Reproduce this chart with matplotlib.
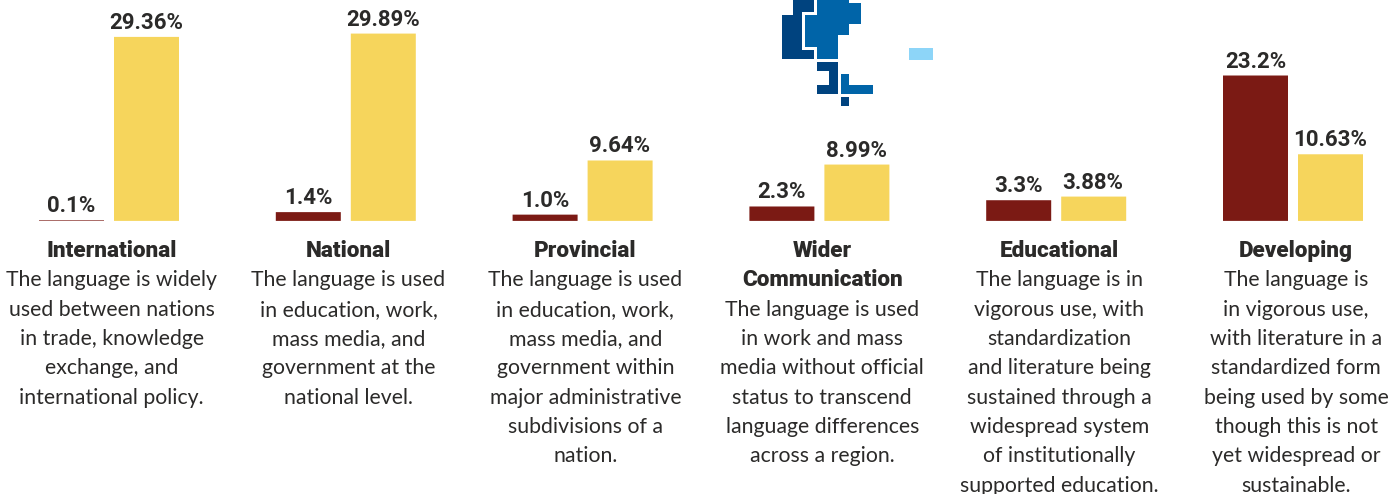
import matplotlib
matplotlib.use("Agg")
import matplotlib.pyplot as plt
from matplotlib.patches import Polygon
from matplotlib.transforms import Affine2D
import numpy as np

W, H = 1399, 494
categories = ["International", "National", "Provincial", "Wider\nCommunication", "Educational", "Developing"]
dark_values = [0.1, 1.4, 1.0, 2.3, 3.3, 23.2]
gold_values = [29.36, 29.89, 9.64, 8.99, 3.88, 10.63]
dark_labels = ["0.1%", "1.4%", "1.0%", "2.3%", "3.3%", "23.2%"]
gold_labels = ["29.36%", "29.89%", "9.64%", "8.99%", "3.88%", "10.63%"]
descriptions = [
    "The language is widely\nused between nations\nin trade, knowledge\nexchange, and\ninternational policy.",
    "The language is used\nin education, work,\nmass media, and\ngovernment at the\nnational level.",
    "The language is used\nin education, work,\nmass media, and\ngovernment within\nmajor administrative\nsubdivisions of a\nnation.",
    "The language is used\nin work and mass\nmedia without official\nstatus to transcend\nlanguage differences\nacross a region.",
    "The language is in\nvigorous use, with\nstandardization\nand literature being\nsustained through a\nwidespread system\nof institutionally\nsupported education.",
    "The language is\nin vigorous use,\nwith literature in a\nstandardized form\nbeing used by some\nthough this is not\nyet widespread or\nsustainable.",
]
# decorative map fragments, in pixels of the 3x crop at (770, 0)
map_dark = [
    [(35,45),(70,45),(70,0),(132,0),(132,35),(97,35),(97,150),(132,150),(132,177),(35,177)],
    [(141,186),(203,186),(203,283),(141,283),(141,256),(176,256),(176,212),(141,212)],
    [(212,292),(238,292),(238,318),(212,318)],
]
map_mid = [
    [(141,0),(238,0),(238,9),(273,9),(273,71),(238,71),(238,106),(203,106),(203,177),(141,177),(141,141),(106,141),(106,45),(141,45)],
    [(212,221),(238,221),(238,256),(308,256),(308,283),(212,283)],
]
map_light = [[(417,144),(489,144),(489,180),(417,180)]]

DARK, GOLD, INK = "#7b1a14", "#f6d55c", "#2b2a29"
PX_PER_PCT = 184 / 29.36
BASE = 220.9
STEP = 236.8
TEXT_STEP = 236.9
X0 = 109
TEXT_X0 = 111.6
BW = 65 / STEP
OFF = 37.5 / STEP

fig = plt.figure(figsize=(W / 100, H / 100), dpi=100, facecolor="white")
ax = fig.add_axes([0, 0, 1, 1])
ax.set_xlim(-X0 / STEP, (W - X0) / STEP)
ax.set_ylim(-(H - BASE) / PX_PER_PCT, BASE / PX_PER_PCT)
ax.axis("off")
px = Affine2D().scale(1 / W, -1 / H).translate(0, 1) + fig.transFigure

x = np.arange(len(categories))
for bars in (ax.bar(x - OFF, dark_values, BW, color=DARK),
             ax.bar(x + OFF, gold_values, BW, color=GOLD)):
    for b in bars:
        b.set_snap(False)

LABEL_FONT = dict(family="Roboto", weight="bold", fontsize=16, color=INK,
                  ha="center", va="center", textcoords="offset pixels")
for i in x:
    ax.annotate(dark_labels[i], (i - OFF, dark_values[i]), xytext=(0, 14), **LABEL_FONT)
    ax.annotate(gold_labels[i], (i + OFF, gold_values[i]), xytext=(-0.5, 14), **LABEL_FONT)

LH = 29.35
TOP = 251
for i, (c, d) in enumerate(zip(categories, descriptions)):
    cx = TEXT_X0 + TEXT_STEP * i
    y = TOP
    for line in c.split("\n"):
        ax.text(cx, y, line, transform=px, family="Roboto", weight="black", fontsize=16.2,
                color=INK, ha="center", va="center")
        y += LH
    for line in d.split("\n"):
        ax.text(cx, y, line, transform=px, family="Lato", fontsize=15.35,
                color=INK, ha="center", va="center")
        y += LH

to_px = lambda poly: [(770 + a / 3, b / 3) for a, b in poly]
for polys, col in ((map_dark, "#00437f"), (map_mid, "#0064a8"), (map_light, "#8dd5f8")):
    for poly in polys:
        ax.add_patch(Polygon(to_px(poly), closed=True, facecolor=col, edgecolor="none", transform=px))

fig.savefig("out.png", dpi=100)
